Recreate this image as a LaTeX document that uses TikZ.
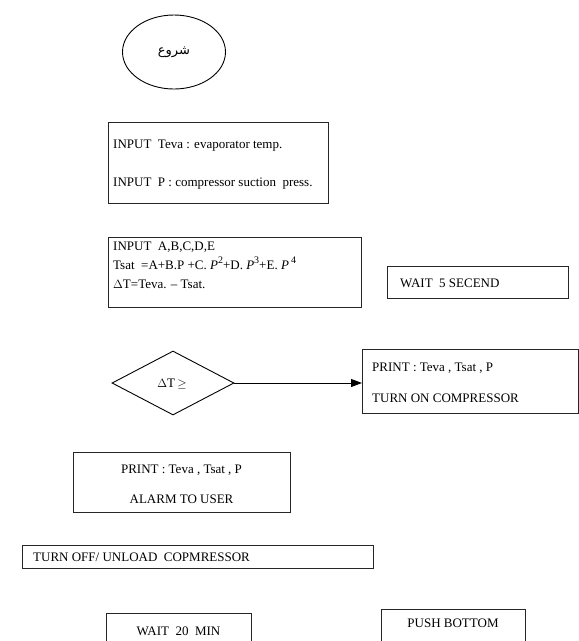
\documentclass[tikz,border=0pt]{standalone}
\usepackage{fontspec}
\setmainfont{Liberation Serif}
\newfontfamily\arabicfont[Script=Arabic]{DejaVu Sans}
\TeXXeTstate=1
\usetikzlibrary{shapes.geometric,arrows.meta}
\tikzset{
  box/.style={draw=black!85, line width=0.9pt, anchor=north west, inner sep=0pt},
  txt/.style={inner sep=0pt, font=\fontsize{13}{19}\selectfont},
  link/.style={draw=black, line width=0.9pt, -{Triangle[length=11pt,width=8pt]}}
}
\newcommand{\sq}[1]{\raisebox{0.45em}{\fontsize{10}{10}\selectfont #1}}
\begin{document}
\begin{tikzpicture}[x=1pt,y=-1pt]
\useasboundingbox (0,0) rectangle (579,641);
\clip (0,0) rectangle (579,641);
% start ellipse
\node[ellipse, draw=black, line width=0.9pt, minimum width=103pt, minimum height=74pt, inner sep=0pt] (start) at (174,52)
  {\arabicfont\fontsize{13}{15}\selectfont\beginR شروع\endR};
% input box 1
\node[box, minimum width=220pt, minimum height=81pt] (in1) at (108,122) {};
\node[txt, anchor=base west] (in1a) at (113,148) {INPUT\ \ Teva : evaporator temp.};
\node[txt, anchor=base west] (in1b) at (113,186) {INPUT\ \ P : compressor suction\ \ press.};
% input box 2
\node[box, minimum width=253pt, minimum height=70pt] (in2) at (108,237) {};
\node[txt, anchor=base west] (in2a) at (113,250) {INPUT\ \ A,B,C,D,E};
\node[txt, anchor=base west] (in2b) at (113,269) {Tsat\ \ =A+B.P +C. \textit{P}\sq{2}+D. \textit{P}\sq{3}+E. \textit{P}\,\sq{4}};
\node[txt, anchor=base west] (in2c) at (113,288) {$\Delta$T=Teva. -- Tsat.};
% wait 5 second
\node[box, minimum width=181pt, minimum height=32pt] (w5) at (387,266) {};
\node[txt, anchor=base west] (w5t) at (400,287) {WAIT\ \ 5 SECEND};
% decision
\node[diamond, draw=black, line width=0.9pt, aspect=1.9, minimum width=122pt, minimum height=64pt, inner sep=0pt] (dec) at (173,383) {};
\node[txt, anchor=base] (dect) at (172,387) {$\Delta$T\,$\geq$};
% print / turn on
\node[box, minimum width=216pt, minimum height=64pt] (pr1) at (362,349) {};
\node[txt, anchor=base west] (pr1a) at (372,371) {PRINT : Teva , Tsat , P};
\node[txt, anchor=base west] (pr1b) at (372,402) {TURN ON COMPRESSOR};
\draw[link] (dec.east) -- (dec.east -| pr1.west);
% print / alarm
\node[box, minimum width=217pt, minimum height=60pt] (pr2) at (73,452) {};
\node[txt, anchor=base] (pr2a) at (181.5,473) {PRINT : Teva , Tsat , P};
\node[txt, anchor=base] (pr2b) at (181.5,503) {ALARM TO USER};
% turn off
\node[box, minimum width=351pt, minimum height=23pt] (off) at (22,545) {};
\node[txt, anchor=base west] (offt) at (33,561) {TURN OFF/ UNLOAD\ \ COPMRESSOR};
% wait 20
\node[box, minimum width=145pt, minimum height=40pt] (w20) at (106,613) {};
\node[txt, anchor=base] (w20t) at (178.5,635) {WAIT\ \ 20\ \ MIN};
% push bottom
\node[box, minimum width=144pt, minimum height=44pt] (push) at (381,609) {};
\node[txt, anchor=base] (pusht) at (453,627) {PUSH BOTTOM};
\end{tikzpicture}
\end{document}
